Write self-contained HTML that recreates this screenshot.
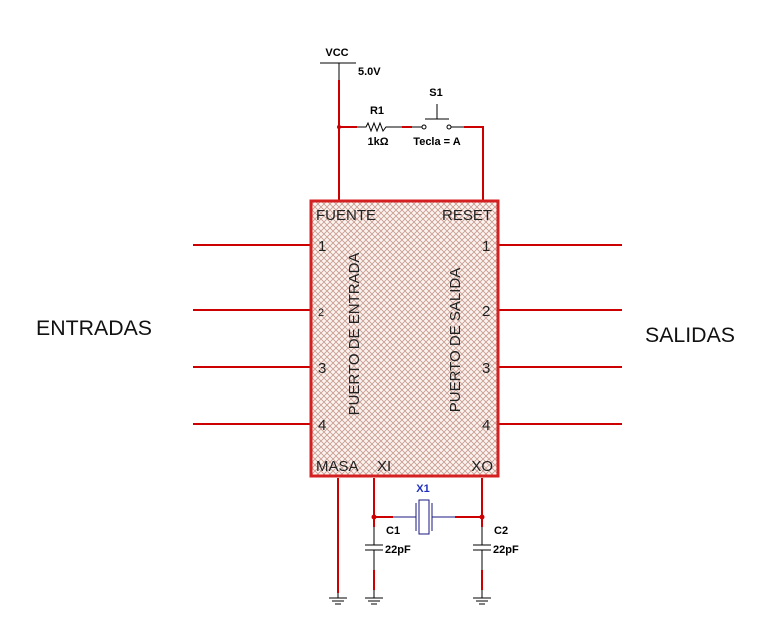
<!DOCTYPE html>
<html><head><style>body{margin:0;background:#fff}svg{display:block}</style></head><body>
<svg width="773" height="635" viewBox="0 0 773 635" xmlns="http://www.w3.org/2000/svg" font-family="Liberation Sans, sans-serif">
<defs>
<pattern id="h" width="6" height="6" patternUnits="userSpaceOnUse">
<rect width="6" height="6" fill="#fbf3f0"/>
<path d="M0 0L6 6M6 0L0 6" stroke="#c79a8e" stroke-width="0.8"/>
</pattern>
</defs>
<text x="337" y="56" font-size="11" font-weight="bold" text-anchor="middle">VCC</text>
<line x1="320" y1="63" x2="356" y2="63" stroke="#000"/>
<line x1="339" y1="63" x2="339" y2="80" stroke="#000"/>
<text x="358" y="75" font-size="11" font-weight="bold">5.0V</text>
<line x1="339" y1="80" x2="339" y2="200" stroke="#c00" stroke-width="2"/>
<line x1="339" y1="127" x2="357" y2="127" stroke="#c00" stroke-width="2"/>
<circle cx="339" cy="127" r="2" fill="#c00"/>
<text x="377" y="114" font-size="11" font-weight="bold" text-anchor="middle">R1</text>
<polyline points="357,127 366,127 368,123 371,131 374,123 377,131 380,123 383,131 386,127 402,127" fill="none" stroke="#000"/>
<text x="378" y="145" font-size="11" font-weight="bold" text-anchor="middle">1kΩ</text>
<line x1="402" y1="127" x2="412" y2="127" stroke="#c00" stroke-width="2"/>
<line x1="412" y1="127" x2="422" y2="127" stroke="#000"/>
<circle cx="424" cy="127" r="2" fill="#fff" stroke="#000"/>
<circle cx="449" cy="127" r="2" fill="#fff" stroke="#000"/>
<line x1="451" y1="127" x2="464" y2="127" stroke="#000"/>
<line x1="425" y1="119" x2="449" y2="119" stroke="#000"/>
<line x1="437" y1="104" x2="437" y2="119" stroke="#000"/>
<text x="436" y="96" font-size="11" font-weight="bold" text-anchor="middle">S1</text>
<text x="437" y="145" font-size="11" font-weight="bold" text-anchor="middle">Tecla = A</text>
<polyline points="464,127 483,127 483,200" fill="none" stroke="#c00" stroke-width="2"/>
<g stroke="#c00" stroke-width="2">
<line x1="193" y1="245" x2="310" y2="245"/><line x1="193" y1="310" x2="310" y2="310"/>
<line x1="193" y1="367" x2="310" y2="367"/><line x1="193" y1="424" x2="310" y2="424"/>
<line x1="499" y1="245" x2="622" y2="245"/><line x1="499" y1="310" x2="622" y2="310"/>
<line x1="499" y1="367" x2="622" y2="367"/><line x1="499" y1="424" x2="622" y2="424"/>
</g>
<rect x="311" y="201" width="187" height="275" fill="url(#h)" stroke="#d42020" stroke-width="3"/>
<g font-size="15" fill="#222">
<text x="316" y="220">FUENTE</text>
<text x="492" y="220" text-anchor="end">RESET</text>
<text x="316" y="471">MASA</text><text x="377" y="471">XI</text>
<text x="493" y="471" text-anchor="end">XO</text>
<text x="318" y="251">1</text><text x="318" y="316" font-size="11">2</text><text x="318" y="373">3</text><text x="318" y="430">4</text>
<text x="482" y="251">1</text><text x="482" y="316">2</text><text x="482" y="373">3</text><text x="482" y="430">4</text>
<text transform="translate(359,334) rotate(-90)" text-anchor="middle">PUERTO DE ENTRADA</text>
<text transform="translate(460,340) rotate(-90)" text-anchor="middle">PUERTO DE SALIDA</text>
</g>
<text x="36" y="335" font-size="21" fill="#111" textLength="116" lengthAdjust="spacingAndGlyphs">ENTRADAS</text>
<text x="645" y="342" font-size="21" fill="#111" textLength="90" lengthAdjust="spacingAndGlyphs">SALIDAS</text>
<g stroke="#c00" stroke-width="2" fill="none">
<line x1="338" y1="478" x2="338" y2="593"/>
<line x1="374" y1="478" x2="374" y2="527"/>
<line x1="482" y1="478" x2="482" y2="527"/>
<line x1="374" y1="517" x2="393" y2="517"/>
<line x1="455" y1="517" x2="482" y2="517"/>
<line x1="374" y1="570" x2="374" y2="590"/>
<line x1="482" y1="570" x2="482" y2="590"/>
</g>
<circle cx="374" cy="517" r="2.5" fill="#c00"/><circle cx="482" cy="517" r="2.5" fill="#c00"/>
<g stroke="#1a1a80" fill="none">
<line x1="393" y1="517" x2="416" y2="517"/><line x1="432" y1="517" x2="455" y2="517"/>
<line x1="416" y1="503" x2="416" y2="531"/><line x1="432" y1="503" x2="432" y2="531"/>
<rect x="419" y="500" width="10" height="34"/>
</g>
<text x="423" y="492" font-size="11" font-weight="bold" fill="#2030c0" text-anchor="middle">X1</text>
<g stroke="#000" fill="none">
<line x1="374" y1="527" x2="374" y2="545"/><line x1="365" y1="545" x2="383" y2="545"/>
<line x1="365" y1="550" x2="383" y2="550"/><line x1="374" y1="550" x2="374" y2="570"/>
<line x1="482" y1="527" x2="482" y2="545"/><line x1="473" y1="545" x2="491" y2="545"/>
<line x1="473" y1="550" x2="491" y2="550"/><line x1="482" y1="550" x2="482" y2="570"/>
<line x1="374" y1="590" x2="374" y2="598"/><line x1="482" y1="590" x2="482" y2="598"/><line x1="338" y1="593" x2="338" y2="598"/>
<path d="M329 598h18M332 601h12M335 604h6M365 598h18M368 601h12M371 604h6M473 598h18M476 601h12M479 604h6"/>
</g>
<g font-size="11" font-weight="bold">
<text x="386" y="534">C1</text><text x="385" y="553">22pF</text>
<text x="494" y="534">C2</text><text x="493" y="553">22pF</text>
</g>
</svg>
</body></html>
